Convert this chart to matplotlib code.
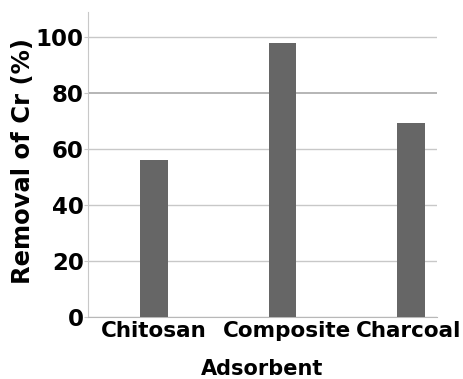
import matplotlib
matplotlib.use("Agg")
import matplotlib.pyplot as plt
from matplotlib.transforms import ScaledTranslation

categories = ["Chitosan", "Composite", "Charcoal"]
removal = [56.1, 98.1, 69.2]
yticks = [0, 20, 40, 60, 80, 100]

plt.rcParams["font.family"] = ["DejaVu Sans"]
plt.rcParams["font.weight"] = "bold"

fig = plt.figure(figsize=(4.63, 3.79), dpi=100)
W, H = 463, 379
left, right, top, bottom = 88, 437, 12, 317
ax = fig.add_axes([left / W, 1 - bottom / H, (right - left) / W, (bottom - top) / H])

x = range(len(categories))
ax.bar(x, removal, width=0.215, color="#666666", zorder=3)
ax.set_xlim(-0.514, 2.202)
ax.set_ylim(0, 109)
ax.set_yticks(yticks)
ax.set_xticks(list(x))
ax.set_xticklabels(categories)
ax.yaxis.grid(True, color="#c8c8c8", linewidth=1.0, zorder=0)
gl = ax.yaxis.get_gridlines()
gl[4].set_color("#b0b0b0")
gl[4].set_linewidth(1.3)
for s in ["top", "right"]:
    ax.spines[s].set_visible(False)
ax.spines["left"].set_color("#c8c8c8")
ax.spines["bottom"].set_color("#b8b8b8")
ax.tick_params(axis="y", length=3, color="#c8c8c8", pad=0, labelsize=16.5)
ax.tick_params(axis="x", length=0, pad=3, labelsize=15.5)
offsets = [0, 4, -2]
for lab, dx in zip(ax.get_xticklabels(), offsets):
    lab.set_fontweight("bold")
    lab.set_transform(lab.get_transform() + ScaledTranslation(dx / 100, 0, fig.dpi_scale_trans))
for lab in ax.get_yticklabels():
    lab.set_fontweight("bold")
ax.set_ylabel("Removal of Cr (%)", fontsize=17.5, fontweight="bold")
ax.yaxis.set_label_coords(-0.152, 0.51)
ax.set_xlabel("Adsorbent", fontsize=15, fontweight="bold", labelpad=13)
fig.savefig("out.png", dpi=100)
